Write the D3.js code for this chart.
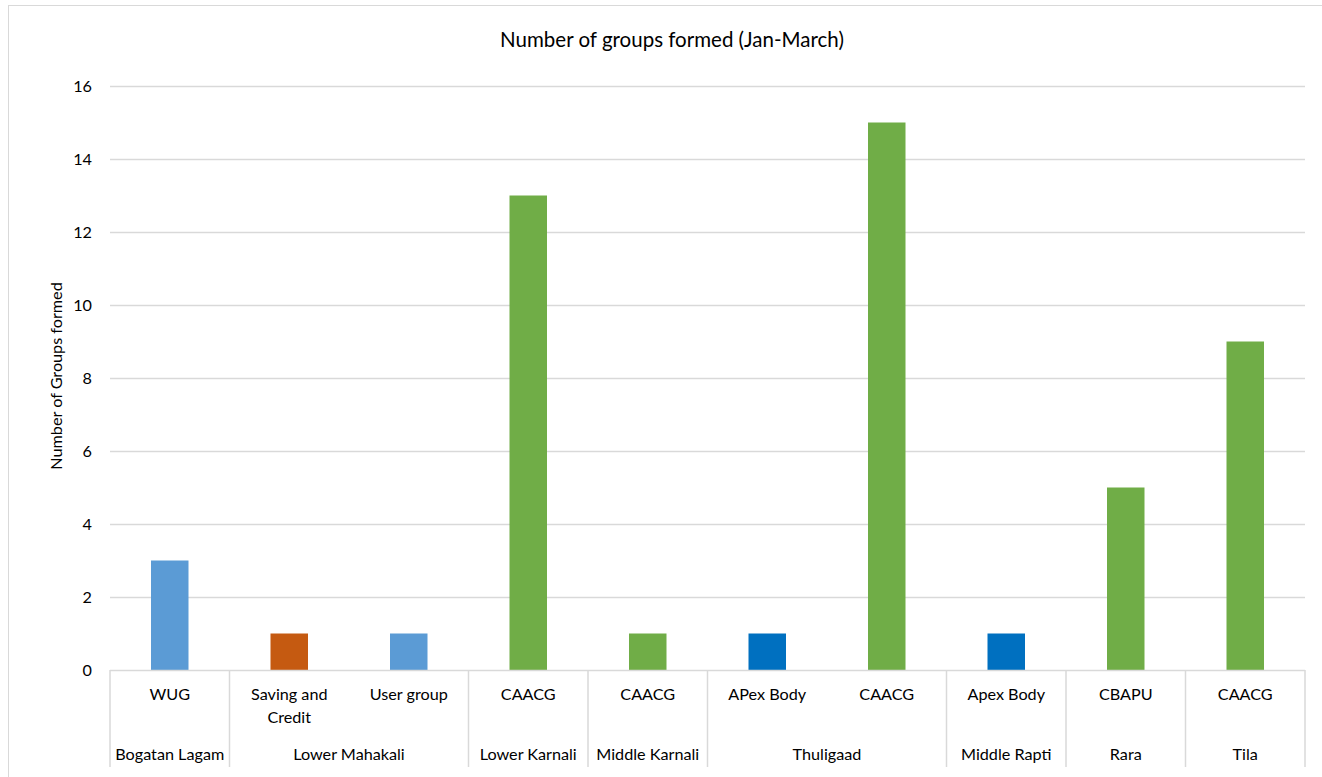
<!DOCTYPE html>
<html>
<head>
<meta charset="utf-8">
<script src="https://cdn.jsdelivr.net/npm/d3@7"></script>
<style>
  html, body { margin: 0; padding: 0; background: #fff; }
  svg { display: block; font-family: Lato, "Open Sans", sans-serif; }
</style>
</head>
<body>
<svg id="chart" width="1322" height="777"></svg>
<script>
// Group types (inner axis labels), one per bar
const categories = ["WUG", "Saving and\nCredit", "User group", "CAACG", "CAACG",
                    "APex Body", "CAACG", "Apex Body", "CBAPU", "CAACG"];
// Number of groups formed per bar
const values = [3, 1, 1, 13, 1, 1, 15, 1, 5, 9];
// Colour key per bar
const colorKeys = ["light", "orange", "light", "green", "green",
                   "blue", "green", "blue", "green", "green"];
// River basins (outer axis labels) with the number of bars each spans
const basins = ["Bogatan Lagam", "Lower Mahakali", "Lower Karnali", "Middle Karnali",
                "Thuligaad", "Middle Rapti", "Rara", "Tila"];
const basinSpans = [1, 2, 1, 1, 2, 1, 1, 1];
const yTicks = [0, 2, 4, 6, 8, 10, 12, 14, 16];

const palette = { light: "#5B9BD5", orange: "#C55A11", green: "#70AD47", blue: "#0070C0" };

const svg = d3.select("#chart");
const plot = { left: 110, right: 1305, top: 86, bottom: 670 };
const labelSize = 16.2;

// Chart frame
svg.append("rect")
  .attr("x", 8.5).attr("y", 5.5).attr("width", 1330).attr("height", 800)
  .attr("fill", "#fff").attr("stroke", "#D9D9D9").attr("stroke-width", 1);

// Title
svg.append("text")
  .attr("x", 672).attr("y", 47)
  .attr("text-anchor", "middle")
  .attr("font-size", 20.5).attr("fill", "#000")
  .text("Number of groups formed (Jan-March)");

const x = d3.scaleBand()
  .domain(d3.range(categories.length))
  .range([plot.left, plot.right])
  .paddingInner(0).paddingOuter(0);

const y = d3.scaleLinear().domain([0, 16]).range([plot.bottom, plot.top]);

// Gridlines
svg.append("g")
  .selectAll("line")
  .data(yTicks.filter(d => d > 0))
  .join("line")
  .attr("x1", plot.left).attr("x2", plot.right)
  .attr("y1", d => Math.round(y(d)) + 0.5).attr("y2", d => Math.round(y(d)) + 0.5)
  .attr("stroke", "#D9D9D9").attr("stroke-width", 1.5);

// Y axis labels
const yAxis = d3.axisLeft(y).tickValues(yTicks).tickSize(0).tickPadding(18);
const yG = svg.append("g").attr("transform", `translate(${plot.left},0)`).call(yAxis);
yG.select(".domain").remove();
yG.selectAll("text")
  .attr("font-family", "Lato, 'Open Sans', sans-serif")
  .attr("font-size", labelSize).attr("fill", "#000").attr("dy", "0.35em");

// Y axis title
svg.append("text")
  .attr("transform", `translate(62,${(plot.top + plot.bottom) / 2 - 2}) rotate(-90)`)
  .attr("text-anchor", "middle")
  .attr("font-size", labelSize).attr("fill", "#000")
  .text("Number of Groups formed");

// Bars
const barW = 37.5;
svg.append("g")
  .selectAll("rect")
  .data(values)
  .join("rect")
  .attr("x", (d, i) => x(i) + x.bandwidth() / 2 - barW / 2)
  .attr("width", barW)
  .attr("y", d => y(d))
  .attr("height", d => y(0) - y(d))
  .attr("fill", (d, i) => palette[colorKeys[i]]);

// Baseline
svg.append("line")
  .attr("x1", plot.left).attr("x2", plot.right)
  .attr("y1", plot.bottom + 0.5).attr("y2", plot.bottom + 0.5)
  .attr("stroke", "#D9D9D9").attr("stroke-width", 1.5);

// Group boundary ticks
const starts = [];
let acc = 0;
basinSpans.forEach(s => { starts.push(acc); acc += s; });
const boundaries = starts.concat([categories.length]);
svg.append("g")
  .selectAll("line")
  .data(boundaries)
  .join("line")
  .attr("x1", i => (i < categories.length ? x(i) : plot.right))
  .attr("x2", i => (i < categories.length ? x(i) : plot.right))
  .attr("y1", plot.bottom).attr("y2", 767)
  .attr("stroke", "#D9D9D9").attr("stroke-width", 1.5);

// Inner category labels
const catG = svg.append("g");
categories.forEach((c, i) => {
  const t = catG.append("text")
    .attr("x", x(i) + x.bandwidth() / 2)
    .attr("y", 700)
    .attr("text-anchor", "middle")
    .attr("font-size", labelSize).attr("fill", "#000");
  c.split("\n").forEach((line, k) => {
    t.append("tspan")
      .attr("x", x(i) + x.bandwidth() / 2)
      .attr("dy", k === 0 ? 0 : 23)
      .text(line);
  });
});

// Outer basin labels
svg.append("g")
  .selectAll("text")
  .data(basins)
  .join("text")
  .attr("x", (d, i) => {
    const a = x(starts[i]);
    const b = starts[i] + basinSpans[i] < categories.length ? x(starts[i] + basinSpans[i]) : plot.right;
    return (a + b) / 2;
  })
  .attr("y", 760)
  .attr("text-anchor", "middle")
  .attr("font-size", labelSize).attr("fill", "#000")
  .text(d => d);
</script>
</body>
</html>
